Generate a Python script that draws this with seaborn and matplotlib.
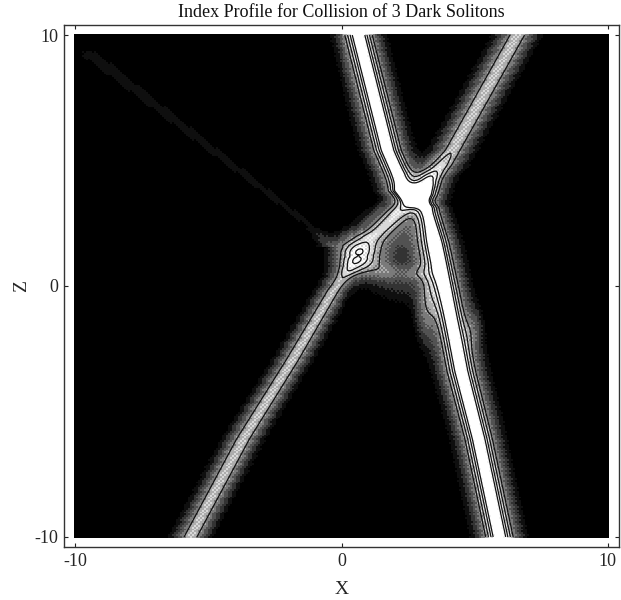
import numpy as np
import pandas as pd
import seaborn as sns
import matplotlib
matplotlib.use('Agg')
import matplotlib.pyplot as plt
from matplotlib.colors import ListedColormap, BoundaryNorm

# ridge tracks: z, x centre, peak height, width
a_z = [10, 5.4, 4.5, 3.8, 3.15, 1.8, -0.15, -3.4, -6.1, -10]
a_x = [0.64, 1.73, 2.1, 2.3, 3.2, 3.5, 3.9, 4.5, 5.15, 5.93]
a_peak = [1.2, 1.2, 1.2, 1.1, 1.05, 1.2, 1.2, 1.2, 1.2, 1.2]
a_w = [0.48, 0.48, 0.48, 0.46, 0.42, 0.46, 0.48, 0.5, 0.48, 0.48]

b_z = [10, 5.4, 4.8, 4.2, 3.6, 3.0]
b_x = [6.6, 4.17, 3.75, 3.3, 2.9, 2.6]
b_peak = [0.6, 0.6, 0.72, 0.72, 0.5, 0.0]
b_w = [0.5, 0.5, 0.52, 0.52, 0.5, 0.5]

c_z = [-10, -6.1, -2.95, -0.15, 0.6, 1.2]
c_x = [-5.67, -3.7, -1.85, -0.3, 0.2, 0.5]
c_peak = [0.6, 0.6, 0.6, 0.58, 0.5, 0.0]
c_w = [0.44, 0.44, 0.42, 0.4, 0.42, 0.45]

join_z = [1.2, 2.0, 3.0, 3.6, 4.2]
join_x = [0.7, 1.2, 2.2, 2.9, 3.3]
join_peak = [0.0, 0.55, 0.7, 0.7, 0.0]
join_w = [0.6, 0.6, 0.6, 0.55, 0.5]

faint_z = [9.7, 9.2, 2.4, 1.6]
faint_x = [-9.7, -9.4, -1.2, -0.4]
faint_peak = [0.0, 0.075, 0.06, 0.14]
faint_w = [0.5, 0.5, 0.35, 0.4]

# local bumps: x, z, height, width in x, width in z
bump_x = [0.6, 1.7, 2.8, 2.3, 2.3, 2.7, 3.2, 3.2, 4.95]
bump_z = [1.2, 0.55, 0.5, 1.2, 1.15, 3.7, 4.2, -0.8, -1.7]
bump_h = [0.88, 0.2, 0.16, 0.35, -0.25, 0.5, 0.3, 0.3, 0.16]
bump_sx = [0.75, 0.6, 0.6, 1.2, 0.55, 0.7, 0.5, 0.35, 0.3]
bump_sz = [0.65, 0.32, 0.3, 1.3, 0.75, 0.3, 0.4, 1.2, 0.7]

levels = [-1, 0.05, 0.1, 0.18, 0.3, 0.45, 0.62, 0.8, 0.95, 5]
greys = [0.0, 0.06, 0.2, 0.32, 0.48, 0.68, 0.85, 0.95, 1.0]
line_levels = [0.45, 0.62, 0.8, 0.95]

grid = np.linspace(-10, 10, 268)
X, Z = np.meshgrid(grid, grid)


def ridge(t_z, t_x, t_peak, t_w):
    order = np.argsort(t_z)
    tz = np.array(t_z)[order]
    inside = (Z >= tz[0]) & (Z <= tz[-1])
    cx = np.interp(Z, tz, np.array(t_x)[order])
    pk = np.interp(Z, tz, np.array(t_peak)[order])
    w = np.interp(Z, tz, np.array(t_w)[order])
    return inside * pk / np.cosh((X - cx) / w) ** 2


field = ridge(a_z, a_x, a_peak, a_w) + ridge(b_z, b_x, b_peak, b_w)
field += ridge(c_z, c_x, c_peak, c_w) + ridge(join_z, join_x, join_peak, join_w)
field += ridge(faint_z, faint_x, faint_peak, faint_w)
for bx, bz, bh, sx, sz in zip(bump_x, bump_z, bump_h, bump_sx, bump_sz):
    field += bh * np.exp(-((X - bx) / sx) ** 2 - ((Z - bz) / sz) ** 2)

# halftone grain of the printed figure, only for the shaded cells
rows, cols = np.indices(field.shape)
checker = (-1.0) ** (rows + cols)
shaded = field * (1 + 0.1 * checker)

df = pd.DataFrame(shaded, index=grid, columns=grid)

sns.set_style('ticks')
plt.rcParams['font.family'] = ['Liberation Serif', 'DejaVu Serif']

fig = plt.figure(figsize=(6.21, 6.0), dpi=100)
ax = fig.add_axes([64 / 621, 1 - 547 / 600, 555 / 621, 522 / 600])

cmap = ListedColormap([str(g) for g in greys])
norm = BoundaryNorm(levels, cmap.N)
sns.heatmap(df, cmap=cmap, norm=norm, cbar=False, ax=ax, xticklabels=False, yticklabels=False)

n = len(grid) - 1
idx = np.arange(len(grid)) + 0.5


def to_idx(v):
    return (np.asarray(v, dtype=float) + 10) / 20 * n + 0.5


ax.contour(idx, idx, field, levels=line_levels, colors='#111111', linewidths=0.9)

ax.set_xlim(to_idx(-10.42), to_idx(10.42))
ax.set_ylim(to_idx(-10.4), to_idx(10.4))
ax.set_xticks(to_idx([-10, 0, 10]))
ax.set_xticklabels(['-10', '0', '10'], rotation=0, fontsize=13)
ax.set_yticks(to_idx([-10, 0, 10]))
ax.set_yticklabels(['-10', '0', '10'], rotation=0, fontsize=13)
ax.tick_params(direction='in', length=3, width=0.8, color='#222222', top=True, right=True, pad=4)
for s in ax.spines.values():
    s.set_visible(True)
    s.set_linewidth(1.0)
    s.set_color('#333333')

ax.set_title('Index Profile for Collision of 3 Dark Solitons', fontsize=13, pad=6, color='#111111')
ax.set_xlabel('X', fontsize=14, labelpad=8)
ax.set_ylabel('Z', fontsize=14, labelpad=3)

fig.savefig('out.png', dpi=100)
